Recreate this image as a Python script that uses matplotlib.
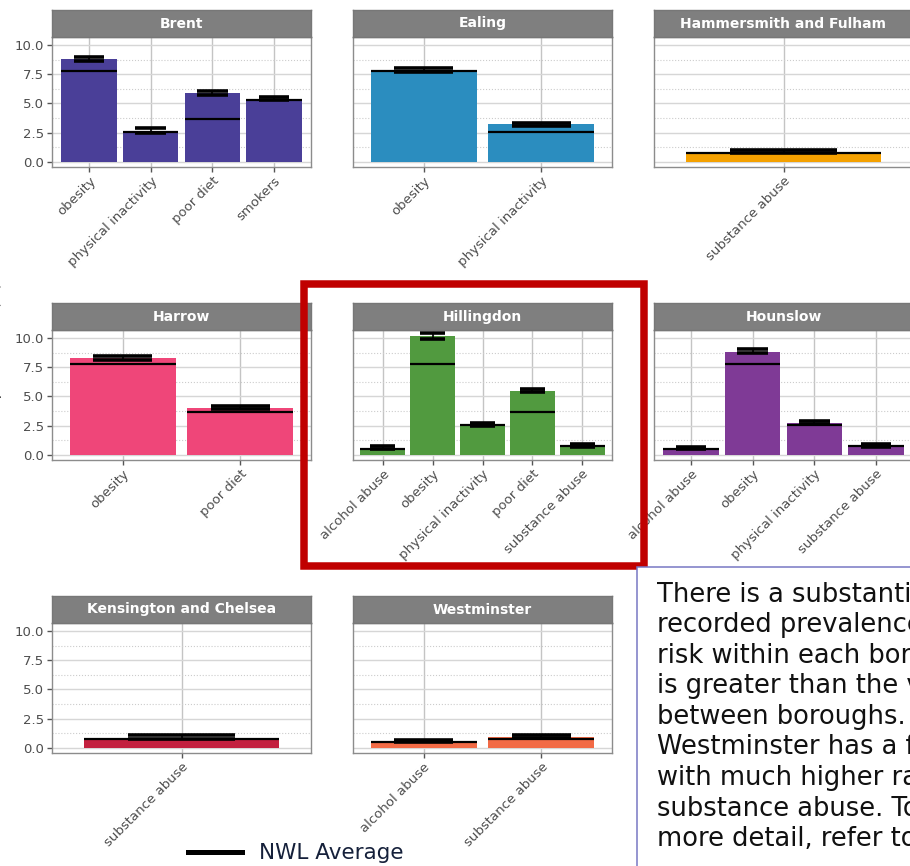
import matplotlib
matplotlib.use('Agg')
import matplotlib.pyplot as plt
from matplotlib.patches import Rectangle
from matplotlib.lines import Line2D

W, H = 910, 866

# one row per borough / risk factor: recorded prevalence (%) with its interval
borough = ['Brent', 'Brent', 'Brent', 'Brent',
           'Ealing', 'Ealing',
           'Hammersmith and Fulham',
           'Harrow', 'Harrow',
           'Hillingdon', 'Hillingdon', 'Hillingdon', 'Hillingdon', 'Hillingdon',
           'Hounslow', 'Hounslow', 'Hounslow', 'Hounslow',
           'Kensington and Chelsea',
           'Westminster', 'Westminster']
risk = ['obesity', 'physical inactivity', 'poor diet', 'smokers',
        'obesity', 'physical inactivity',
        'substance abuse',
        'obesity', 'poor diet',
        'alcohol abuse', 'obesity', 'physical inactivity', 'poor diet', 'substance abuse',
        'alcohol abuse', 'obesity', 'physical inactivity', 'substance abuse',
        'substance abuse',
        'alcohol abuse', 'substance abuse']
rate = [8.83, 2.65, 5.87, 5.36,
        7.80, 3.19,
        0.83,
        8.25, 3.99,
        0.60, 10.17, 2.56, 5.46, 0.80,
        0.54, 8.82, 2.73, 0.78,
        0.86,
        0.55, 0.92]
rate_lo = [8.66, 2.50, 5.75, 5.30,
           7.69, 3.02,
           0.74,
           8.10, 3.90,
           0.49, 9.94, 2.44, 5.37, 0.69,
           0.46, 8.68, 2.64, 0.69,
           0.75,
           0.47, 0.86]
rate_hi = [9.00, 2.85, 6.09, 5.53,
           8.03, 3.30,
           0.97,
           8.47, 4.16,
           0.72, 10.40, 2.73, 5.63, 0.92,
           0.66, 9.02, 2.93, 0.89,
           1.10,
           0.69, 1.12]

# North West London average for each risk factor
nwl_risk = ['alcohol abuse', 'obesity', 'physical inactivity', 'poor diet', 'smokers', 'substance abuse']
nwl_average = [0.48, 7.73, 2.52, 3.67, 5.30, 0.73]

facet_order = ['Brent', 'Ealing', 'Hammersmith and Fulham',
               'Harrow', 'Hillingdon', 'Hounslow',
               'Kensington and Chelsea', 'Westminster']
facet_colour = ['#4A3F98', '#2B8DBF', '#F5A100',
                '#EF4679', '#519A3F', '#7F3A96',
                '#C3203F', '#F26A45']

y_ticks = [0, 2.5, 5, 7.5, 10]
y_minor = [1.25, 3.75, 6.25, 8.75]

note_lines = ['There is a substantial',
              'recorded prevalence',
              'risk within each borough',
              'is greater than the variation',
              'between boroughs.',
              'Westminster has a few',
              'with much higher rates',
              'substance abuse. To',
              'more detail, refer to']

plt.rcParams['font.family'] = ['DejaVu Sans']

fig = plt.figure(figsize=(W / 100, H / 100), dpi=100)
fig.patch.set_facecolor('white')


def px_rect(left, top, width, height):
    return [left / W, 1 - (top + height) / H, width / W, height / H]


for i, name in enumerate(facet_order):
    row, col = divmod(i, 3)
    left = 52 + col * 301
    top = 37 + row * 293

    ax = fig.add_axes(px_rect(left, top, 259, 130))
    idx = [k for k, b in enumerate(borough) if b == name]
    cats = [risk[k] for k in idx]
    xs = list(range(len(cats)))

    ax.bar(xs, [rate[k] for k in idx], width=0.9, color=facet_colour[i], zorder=2)
    for j, k in zip(xs, idx):
        avg = nwl_average[nwl_risk.index(risk[k])]
        ax.hlines(avg, j - 0.45, j + 0.45, color='black', lw=1.6, zorder=3)
        ax.hlines([rate_lo[k], rate_hi[k]], j - 0.25, j + 0.25, color='black', lw=2.6, zorder=4)
        ax.vlines(j, rate_lo[k], rate_hi[k], color='black', lw=1.2, zorder=4)

    ax.set_xlim(-0.6, len(cats) - 0.4)
    ax.set_ylim(-0.45, 10.68)
    ax.set_xticks(xs)
    ax.set_xticklabels(cats, rotation=45, ha='right', va='top', rotation_mode='anchor')
    ax.set_yticks(y_ticks)
    ax.set_yticklabels([f'{v:.1f}' for v in y_ticks])
    ax.set_yticks(y_minor, minor=True)
    ax.set_axisbelow(True)
    ax.grid(which='major', axis='y', color='#d6d6d6', lw=1)
    ax.grid(which='minor', axis='y', color='#cccccc', lw=0.8, ls=':')
    ax.grid(which='major', axis='x', color='#c4c4c4', lw=1)
    ax.tick_params(which='major', direction='out', length=3.5, width=1, color='#555555',
                   labelsize=9.5, labelcolor='#4d4d4d', pad=2)
    ax.tick_params(which='minor', length=0)
    if col > 0:
        ax.tick_params(axis='y', which='both', length=0, labelleft=False)
    for sp in ax.spines.values():
        sp.set_color('#8c8c8c')
        sp.set_linewidth(1)

    # facet strip
    st = fig.add_axes(px_rect(left, top - 27, 259, 27))
    st.set_facecolor('#7f7f7f')
    st.set_xticks([])
    st.set_yticks([])
    for sp in st.spines.values():
        sp.set_color('#777777')
        sp.set_linewidth(1)
    st.text(0.5, 0.5, name, transform=st.transAxes, ha='center', va='center',
            color='white', fontsize=10, fontweight='bold')

# y axis title, mostly off the left edge
fig.text(-5 / W, 1 - 395 / H, 'Recorded risk prevalence (%)', rotation=90,
         ha='center', va='center', fontsize=11, color='#333333')

# highlight around Hillingdon
fig.patches.append(Rectangle((303.5 / W, 1 - 566 / H), 340.5 / W, 282.5 / H,
                             transform=fig.transFigure, fill=False,
                             edgecolor='#C00000', lw=5.4, zorder=10))

# commentary box
fig.patches.append(Rectangle((637 / W, -5 / H), 290 / W, 304 / H,
                             transform=fig.transFigure, facecolor='white',
                             edgecolor='#7878c4', lw=1.1, zorder=10))
for n, line in enumerate(note_lines):
    fig.text(657 / W, 1 - (601.5 + n * 30.6) / H, line, fontsize=18.5,
             color='#111111', ha='left', va='baseline', zorder=11)

# legend for the average line
fig.lines.append(Line2D([188 / W, 242 / W], [1 - 852 / H, 1 - 852 / H],
                        transform=fig.transFigure, color='black', lw=3.6))
fig.text(259 / W, 1 - 859 / H, 'NWL Average', fontsize=15.5, color='#15203a',
         ha='left', va='baseline')

fig.savefig('out.png', dpi=100)
